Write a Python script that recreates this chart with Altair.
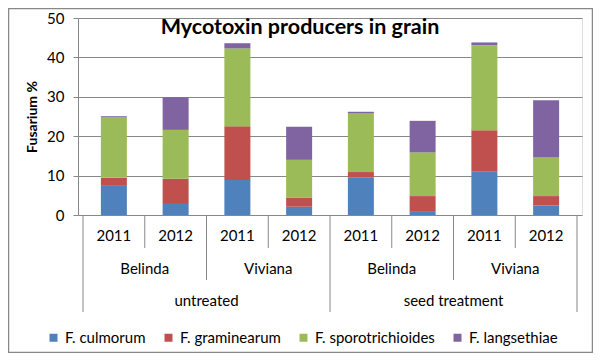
import altair as alt
import pandas as pd

# ---- data ----
title_text = "Mycotoxin producers in grain"
years = ["2011", "2012", "2011", "2012", "2011", "2012", "2011", "2012"]
varieties = ["Belinda", "Viviana", "Belinda", "Viviana"]
treatments = ["untreated", "seed treatment"]
species = ["F. culmorum", "F. graminearum", "F. sporotrichioides", "F. langsethiae"]
colors = ["#4F81BD", "#C0504D", "#9BBB59", "#8064A2"]

culmorum = [7.4, 2.8, 8.9, 2.1, 9.5, 0.8, 11.0, 2.4]
graminearum = [2.1, 6.4, 13.6, 2.3, 1.4, 4.0, 10.5, 2.4]
sporotrichioides = [15.4, 12.4, 19.8, 9.6, 14.9, 11.1, 21.6, 9.8]
langsethiae = [0.2, 8.3, 1.3, 8.4, 0.4, 8.0, 0.7, 14.5]
series = [culmorum, graminearum, sporotrichioides, langsethiae]
y_ticks = [0, 10, 20, 30, 40, 50]

FONT = "Lato"
GREY = "#888888"
FS = 15

# ---- tables built from the arrays ----
bars = pd.DataFrame([
    {"pos": i + 0.5, "species": s, "order": k, "value": vals[i]}
    for k, (s, vals) in enumerate(zip(species, series))
    for i in range(len(years))
])
year_df = pd.DataFrame({"pos": [i + 0.5 for i in range(len(years))], "label": years})
var_df = pd.DataFrame({"pos": [2 * j + 1 for j in range(len(varieties))], "label": varieties})
treat_df = pd.DataFrame({"pos": [4 * j + 2 for j in range(len(treatments))], "label": treatments})
year_sep = pd.DataFrame({"pos": [1, 3, 5, 7]})
var_sep = pd.DataFrame({"pos": [2, 6]})
outer_sep = pd.DataFrame({"pos": [0, 4, 8]})

xscale = alt.Scale(domain=[0, len(years)])

bar_layer = alt.Chart(bars).mark_bar(size=26).encode(
    x=alt.X("pos:Q", scale=xscale, axis=None),
    y=alt.Y("value:Q", stack="zero",
            scale=alt.Scale(domain=[0, 50]),
            axis=alt.Axis(values=y_ticks, grid=True, gridColor=GREY, gridWidth=1,
                          domainColor=GREY, tickColor=GREY, tickSize=5,
                          labelFont=FONT, labelFontSize=FS, labelColor="#000000",
                          labelPadding=9,
                          title="Fusarium %", titleFont=FONT, titleFontSize=14,
                          titleFontWeight="bold", titleColor="#000000",
                          titleAngle=-90, titleX=-46, titleY=98.5,
                          titleAlign="center", titleBaseline="middle")),
    color=alt.Color("species:N",
                    scale=alt.Scale(domain=species, range=colors),
                    legend=alt.Legend(title=None, orient="none", direction="horizontal",
                                      legendX=-32, legendY=312,
                                      symbolType="square", symbolSize=64,
                                      symbolStrokeWidth=0,
                                      labelFont=FONT, labelFontSize=FS,
                                      labelColor="#000000", labelOffset=4,
                                      columnPadding=15)),
    order=alt.Order("order:Q"),
)

def text_row(df, ypix, size=FS):
    return alt.Chart(df).mark_text(font=FONT, fontSize=size, color="#000000",
                                   baseline="middle", align="center").encode(
        x=alt.X("pos:Q", scale=xscale, axis=None),
        y=alt.value(ypix),
        text="label:N",
    )

def sep_rule(df, y2pix):
    return alt.Chart(df).mark_rule(color=GREY, strokeWidth=1).encode(
        x=alt.X("pos:Q", scale=xscale, axis=None),
        y=alt.value(197),
        y2=alt.value(y2pix),
    )

title_layer = alt.Chart(pd.DataFrame({"label": [title_text]})).mark_text(
    font=FONT, fontSize=21.5, fontWeight="bold", color="#000000",
    baseline="middle", align="center").encode(
    x=alt.value(222), y=alt.value(10), text="label:N"
)

border = alt.Chart(pd.DataFrame({"a": [0]})).mark_rect(
    fill=None, stroke=GREY, strokeWidth=1.5).encode(
    x=alt.value(-69.5), x2=alt.value(514.5), y=alt.value(-9.5), y2=alt.value(334.5)
)

chart = alt.layer(
    border,
    bar_layer,
    sep_rule(year_sep, 230),
    sep_rule(var_sep, 262),
    sep_rule(outer_sep, 294),
    text_row(year_df, 218),
    text_row(var_df, 251),
    text_row(treat_df, 283),
    title_layer,
).properties(
    width=504,
    height=197,
    autosize=alt.AutoSizeParams(type="none"),
    padding={"left": 70, "top": 10, "right": 11, "bottom": 138},
).configure_view(stroke=None).configure(background="#ffffff")

chart.save("out.html", embed_options={"renderer": "svg", "actions": False})
